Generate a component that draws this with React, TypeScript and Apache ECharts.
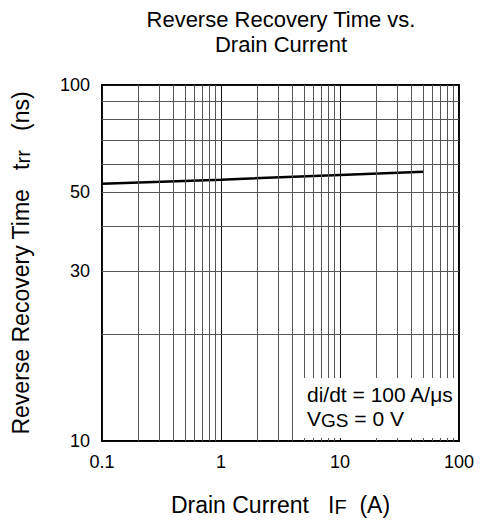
import React, { useEffect, useRef } from 'react';
import * as echarts from 'echarts';

// Data
const currentA = [0.1, 1, 10, 50];
const trrNs = [52.8, 54.2, 55.9, 57.1];

// Axis ranges and grid/tick values
const xRange = [0.1, 100];
const yRange = [10, 100];
const xMinorGrid = [0.2, 0.3, 0.4, 0.5, 0.6, 0.7, 0.8, 0.9, 2, 3, 4, 5, 6, 7, 8, 9, 20, 30, 40, 50, 60, 70, 80, 90];
const yMinorGrid = [20, 30, 40, 50, 60, 70, 80, 90];
const yExtraTickLabels = [30, 50];

const FONT = 'Liberation Sans, Arial, sans-serif';
const TICK_FS = 18;
const NAME_FS = 23;
const TITLE_FS = 22;

export default function App() {
  const ref = useRef<HTMLDivElement>(null);
  useEffect(() => {
    const chart = echarts.init(ref.current as HTMLDivElement, null, { renderer: 'svg' });
    const gridColor = '#555';
    const markData: any[] = [
      ...xMinorGrid.map((v) => ({ xAxis: v, label: { show: false } })),
      ...yMinorGrid.map((v) => ({
        yAxis: v,
        label: yExtraTickLabels.includes(v)
          ? {
              show: true,
              position: 'start',
              distance: 12,
              formatter: String(v),
              color: '#000',
              fontSize: TICK_FS,
              fontFamily: FONT,
            }
          : { show: false },
      })),
    ];
    const nameRich = {
      n: { fontFamily: FONT, fontSize: NAME_FS, color: '#000', lineHeight: 24 },
      sub: { fontFamily: FONT, fontSize: 20, color: '#000', lineHeight: 14, verticalAlign: 'bottom' },
    };
    const option: any = {
      animation: false,
      backgroundColor: '#fff',
      title: {
        text: 'Reverse Recovery Time vs.\nDrain Current',
        left: 281,
        textAlign: 'center',
        top: 7,
        padding: 0,
        textStyle: {
          fontFamily: FONT,
          fontSize: TITLE_FS,
          fontWeight: 'normal',
          color: '#000',
          lineHeight: 25,
        },
      },
      grid: {
        left: 102,
        top: 85,
        width: 357,
        height: 357,
        show: true,
        borderColor: '#000',
        borderWidth: 2,
        backgroundColor: 'transparent',
        containLabel: false,
      },
      xAxis: {
        type: 'log',
        logBase: 10,
        min: xRange[0],
        max: xRange[1],
        name: '{n|Drain Current   I}{sub|F}{n|  (A)}',
        nameLocation: 'middle',
        nameGap: 52,
        nameTextStyle: { fontFamily: FONT, fontSize: NAME_FS, color: '#000', rich: nameRich },
        axisLine: { show: false },
        axisTick: { show: false },
        axisLabel: { fontFamily: FONT, fontSize: TICK_FS, color: '#000', margin: 12 },
        splitLine: { show: true, lineStyle: { color: '#111', width: 1 } },
      },
      yAxis: {
        type: 'log',
        logBase: 10,
        min: yRange[0],
        max: yRange[1],
        name: '{n|Reverse Recovery Time   t}{sub|rr}{n|   (ns)}',
        nameLocation: 'middle',
        nameGap: 69,
        nameTextStyle: { fontFamily: FONT, fontSize: NAME_FS, color: '#000', rich: nameRich },
        axisLine: { show: false },
        axisTick: { show: false },
        axisLabel: { fontFamily: FONT, fontSize: TICK_FS, color: '#000', margin: 12 },
        splitLine: { show: true, lineStyle: { color: '#111', width: 1 } },
      },
      graphic: [
        {
          type: 'rect',
          z: 100,
          shape: { x: 303, y: 378, width: 154, height: 60 },
          style: { fill: '#fff' },
        },
        {
          type: 'text',
          z: 101,
          x: 307,
          y: 382,
          style: {
            text: '{a|di/dt = 100 A/μs}\n{a|V}{s|GS}{a| = 0 V}',
            fill: '#000',
            verticalAlign: 'top',
            rich: {
              a: { fontFamily: FONT, fontSize: 21, fill: '#000', lineHeight: 24 },
              s: { fontFamily: FONT, fontSize: 19, fill: '#000', lineHeight: 10, verticalAlign: 'bottom' },
            },
          },
        },
      ],
      series: [
        {
          type: 'line',
          name: 'grid',
          data: [],
          z: 1,
          silent: true,
          markLine: {
            silent: true,
            symbol: 'none',
            animation: false,
            lineStyle: { color: gridColor, width: 1, type: 'solid' },
            emphasis: { disabled: true },
            data: markData,
          },
        },
        {
          type: 'line',
          name: 'trr',
          z: 3,
          data: currentA.map((x, i) => [x, trrNs[i]]),
          showSymbol: false,
          symbol: 'none',
          lineStyle: { color: '#000', width: 2.5 },
        },
      ],
    };
    chart.setOption(option);
    return () => chart.dispose();
  }, []);
  return <div ref={ref} style={{ position: 'absolute', left: 0, top: 0, width: 483, height: 522 }} />;
}
